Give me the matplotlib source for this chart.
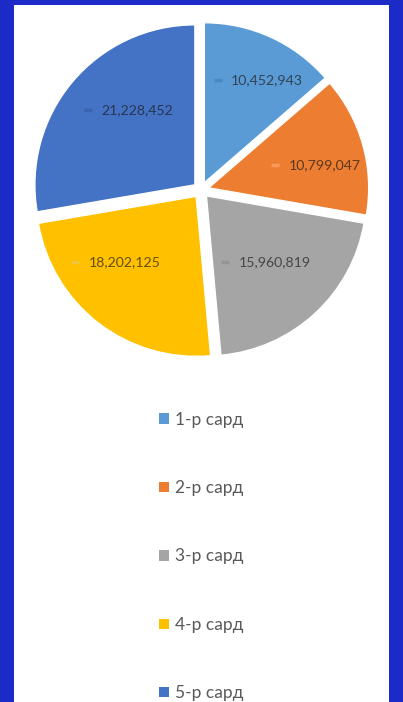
import numpy as np
import matplotlib
matplotlib.use("Agg")
import matplotlib.pyplot as plt
from matplotlib.patches import Rectangle

labels = ["1-р сард", "2-р сард", "3-р сард", "4-р сард", "5-р сард"]
values = [10452943, 10799047, 15960819, 18202125, 21228452]
colors = ["#5B9BD5", "#ED7D31", "#A5A5A5", "#FFC000", "#4472C4"]
key_colors = ["#4a86c4", "#f59a5a", "#959595", "#f2c63a", "#3a63b0"]
# label placement (radius from wedge centre, angle shift from mid angle)
label_r = [0.752, 0.741, 0.595, 0.605, 0.591]
label_dang = [-7.0, -4.5, 3.2, -9.8, -12.2]

plt.rcParams["font.family"] = ["Lato", "DejaVu Sans"]

W, H = 403, 702
fig = plt.figure(figsize=(W / 100, H / 100), dpi=100)
fig.patch.set_facecolor("#1c2bc8")
fig.add_artist(Rectangle((14 / W, 0), 375 / W, 1 - 5 / H, transform=fig.transFigure,
                         facecolor="white", edgecolor="none", zorder=0))

ax = fig.add_axes([17 / W, 328 / H, 368 / W, 368 / H])
ax.set_facecolor("none")
wedges, _ = ax.pie(values, colors=colors, startangle=90, counterclock=False,
                   explode=[0.05] * 5, radius=1.0,
                   wedgeprops=dict(edgecolor="white", linewidth=1.0))
ax.set_xlim(-1.15, 1.15)
ax.set_ylim(-1.15, 1.15)
ax.set_aspect("equal")
ax.axis("off")

for w, v, r, da, kc in zip(wedges, values, label_r, label_dang, key_colors):
    ang = np.deg2rad((w.theta1 + w.theta2) / 2 + da)
    cx, cy = w.center
    x = cx + r * np.cos(ang)
    y = cy + r * np.sin(ang)
    ax.text(x, y, f"{v:,}", ha="center", va="center", fontsize=10.2,
            color="#1a1a1a", alpha=0.68, zorder=5)
    ax.plot(x - 0.31, y, marker="_", markersize=6, color=kc,
            markeredgewidth=2.5, zorder=5)

handles = [Rectangle((0, 0), 1, 1, facecolor=c, edgecolor="none") for c in colors]
fig.legend(handles, labels, loc="center", bbox_to_anchor=(201.5 / W, 1 - 556.5 / H),
           frameon=False, fontsize=12.5, labelcolor="#595959", labelspacing=3.02,
           handlelength=0.55, handleheight=0.55, handletextpad=0.4)

fig.savefig("out.png", dpi=100, facecolor=fig.get_facecolor())
